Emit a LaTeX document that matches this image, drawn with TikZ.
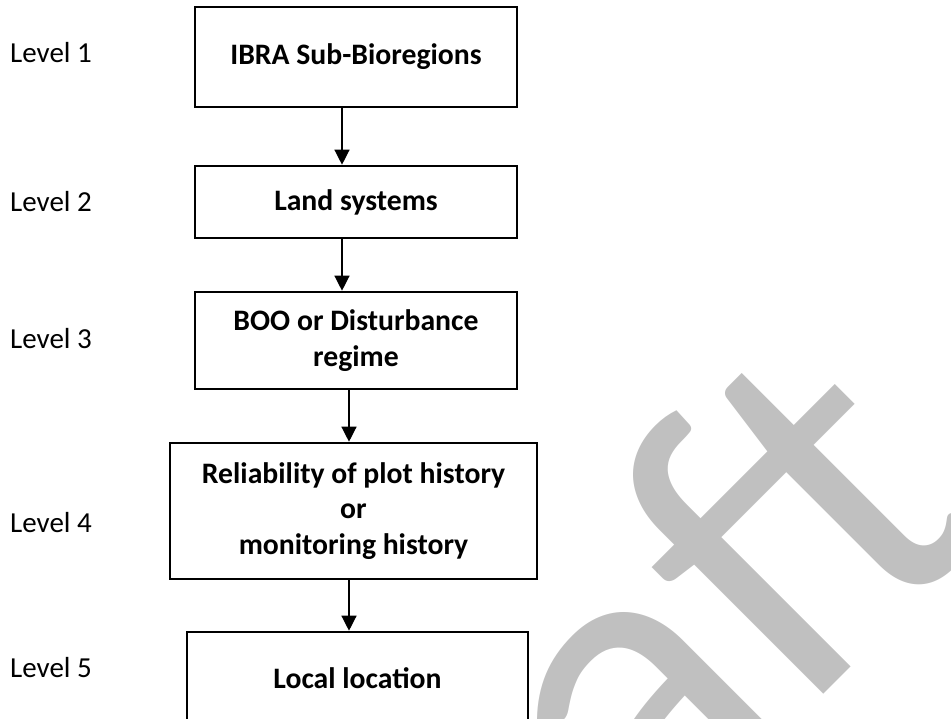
\documentclass[tikz,border=0pt]{standalone}
\usepackage{fontspec}
\setmainfont{Carlito}
\usetikzlibrary{arrows.meta}
\definecolor{wm}{RGB}{192,192,192}
\tikzset{
  box/.style={draw=black, line width=2.6pt, rectangle, align=center, font=\fontsize{29.7}{35.5}\selectfont\bfseries, inner sep=0pt},
  lvl/.style={anchor=west, font=\fontsize{29}{35}\selectfont, inner sep=0pt},
  arr/.style={line width=1.3pt, -{Triangle[width=15pt,length=15pt]}},
}
\begin{document}
\begin{tikzpicture}[x=1pt,y=-1pt]
\useasboundingbox (0,0) rectangle (951,719);
\clip (0,0) rectangle (951,719);
% watermark
\node[anchor=base, rotate=45, text=wm, font=\fontsize{450}{450}\selectfont, inner sep=0pt] (wmk) at (670,848) {Draft};
% boxes
\node[box, minimum width=322pt, minimum height=100pt] (b1) at (356,57) {IBRA Sub-Bioregions};
\node[box, minimum width=322pt, minimum height=72pt] (b2) at (356,202) {Land systems};
\node[box, minimum width=322pt, minimum height=97pt] (b3) at (356,340.5) {BOO or Disturbance\\regime};
\node[box, minimum width=367pt, minimum height=136pt] (b4) at (353.5,511) {Reliability of plot history\\or\\monitoring history};
\node[box, minimum width=341pt, minimum height=92pt] (b5) at (357.5,678) {Local location};
% level labels
\node[lvl] (l1) at (10,52.5) {Level 1};
\node[lvl] (l2) at (10,201.5) {Level 2};
\node[lvl] (l3) at (10,339) {Level 3};
\node[lvl] (l4) at (10,523) {Level 4};
\node[lvl] (l5) at (10,668) {Level 5};
% connectors
\coordinate (c1) at (342,0);
\coordinate (c2) at (342,0);
\coordinate (c3) at (349,0);
\coordinate (c4) at (349,0);
\draw[arr] (b1.south -| c1) -- (b2.north -| c1);
\draw[arr] (b2.south -| c2) -- (b3.north -| c2);
\draw[arr] (b3.south -| c3) -- (b4.north -| c3);
\draw[arr] (b4.south -| c4) -- (b5.north -| c4);
\end{tikzpicture}
\end{document}
